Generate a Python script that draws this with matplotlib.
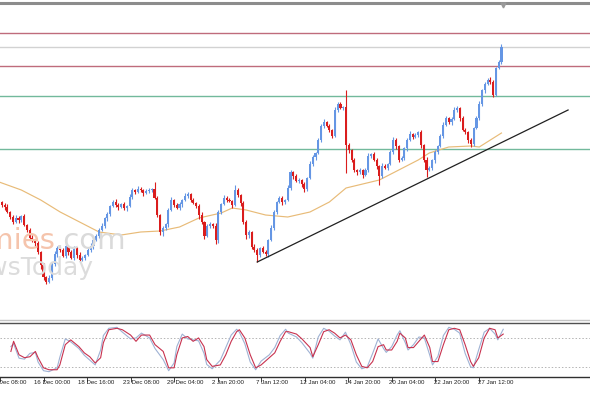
import matplotlib.pyplot as plt
import numpy as np

# 4h candles, bar 0 = 13 Dec 08:00 ; prices are in chart units
first_bar = 4
closes = [118,
          115, 113, 108, 103, 98, 102, 100, 104, 95, 90, 82, 80, 77, 68, 55, 43, 38, 42,
          56, 66, 72, 70, 64, 74, 68, 62, 72, 65, 60, 62, 65, 70, 74, 80, 84, 90,
          94, 102, 106, 114, 118, 115, 113, 116, 112, 114,
          123, 130, 128, 131, 130, 127, 129, 130, 131, 122,
          105, 88, 92, 96, 110, 120, 115, 112, 116, 120,
          124, 126, 120, 117, 114, 105, 98, 84, 94, 96,
          94, 80, 108, 116, 122, 120, 119, 115, 130, 125,
          117, 98, 85, 88, 73, 70, 65, 72, 68, 66,
          80, 92, 108, 118, 122, 118, 120, 132, 148, 144,
          139, 140, 136, 131, 142, 156, 163, 167, 180, 194,
          198, 194, 190, 184, 210, 216, 212, 213, 175, 170,
          160, 150, 148, 150, 145, 150, 164, 166, 160, 154,
          144, 154, 152, 156, 168, 180, 174, 160, 162, 172,
          180, 186, 183, 185, 188, 175, 160, 150, 152, 160,
          168, 174, 184, 195, 202, 198, 201, 210, 212, 202,
          190, 188, 180, 176, 192, 202, 216, 230, 236, 240,
          238, 225, 252, 258, 273]

wick_hi = [2, 1, 2, 3, 1, 2, 3, 2, 1, 2,
           1, 2, 3, 1, 2, 1, 2, 1, 3, 2,
           3, 2, 1, 2, 3, 1, 2, 2, 1, 3,
           2, 1, 2, 3, 1, 2, 2, 3, 1, 2,
           1, 2, 3, 2, 1, 2, 1, 3, 2, 1,
           3, 2, 1, 2, 2, 1, 7, 2, 1, 2,
           1, 2, 3, 1, 2, 2, 1, 3, 2, 1,
           2, 1, 2, 3, 1, 2, 2, 1, 3, 2,
           1, 3, 2, 2, 1, 5, 2, 1, 2, 2,
           2, 1, 3, 2, 1, 2, 2, 1, 3, 2,
           1, 2, 2, 1, 3, 2, 1, 2, 2, 1,
           2, 1, 3, 2, 1, 2, 2, 3, 1, 2,
           1, 3, 2, 2, 1, 17, 2, 1, 2, 1,
           2, 1, 2, 3, 1, 2, 2, 1, 3, 2,
           1, 2, 3, 2, 1, 2, 1, 2, 3, 1,
           2, 1, 2, 1, 3, 2, 1, 2, 1, 2,
           3, 2, 1, 2, 3, 2, 1, 2, 2, 1,
           2, 1, 2, 3, 1, 2, 2, 3, 2, 1,
           2, 3]

wick_lo = [1, 2, 3, 1, 2, 2, 1, 3, 2, 1,
           2, 1, 2, 3, 2, 4, 3, 2, 1, 2,
           2, 3, 2, 1, 2, 3, 1, 2, 3, 1,
           1, 2, 1, 2, 3, 1, 2, 1, 2, 3,
           2, 1, 2, 3, 1, 2, 3, 1, 2, 2,
           1, 2, 3, 1, 2, 2, 1, 2, 3, 4,
           2, 3, 1, 2, 1, 2, 3, 1, 2, 2,
           1, 2, 4, 2, 3, 1, 2, 2, 4, 3,
           2, 1, 2, 1, 3, 1, 2, 3, 2, 4,
           3, 2, 2, 7, 2, 1, 2, 3, 1, 2,
           2, 1, 3, 2, 1, 2, 3, 1, 2, 3,
           3, 2, 1, 2, 3, 1, 2, 2, 1, 2,
           2, 1, 2, 1, 2, 28, 3, 2, 2, 3,
           2, 3, 1, 2, 2, 1, 3, 9, 2, 1,
           2, 1, 2, 3, 2, 1, 2, 3, 1, 2,
           1, 2, 3, 2, 7, 1, 2, 3, 2, 1,
           2, 1, 2, 3, 1, 2, 3, 1, 2, 3,
           3, 2, 1, 2, 2, 3, 1, 2, 2, 1,
           1, 2]

# moving average
ma_bars = [4, 12, 19, 26, 33, 40, 48, 55, 62, 69, 76, 84, 88, 93, 100, 108,
           116, 123, 129, 138, 141, 148, 155, 159, 166, 174, 177, 181, 185]
ma_vals = [138, 130, 120, 108, 98, 88, 85, 88, 89, 93, 102, 107, 112, 110, 105, 103,
           108, 118, 132, 138, 140, 150, 160, 167, 173, 174, 173, 180, 187]

# stochastic oscillator
stoch_bars = [4, 5, 7, 9, 11, 13, 14, 16, 18, 21, 22, 24, 26, 29, 31, 33, 35, 37, 38, 40,
              43, 45, 48, 50, 52, 55, 57, 60, 62, 64, 65, 67, 69, 71, 73, 75, 76, 78, 81, 83,
              85, 87, 88, 90, 92, 94, 96, 99, 101, 103, 105, 106, 109, 111, 114, 115, 117, 119, 121, 123,
              125, 127, 129, 131, 133, 135, 137, 139, 141, 142, 144, 146, 147, 149, 150, 152, 154, 156, 158, 159,
              161, 163, 165, 167, 169, 171, 173, 174, 176, 178, 180, 182, 183, 185]
stoch_d = [52, 73, 45, 39, 41, 52, 39, 18, 14, 14, 24, 66, 76, 62, 49, 41, 28, 39, 70, 97,
           100, 97, 86, 73, 86, 86, 66, 52, 18, 18, 45, 80, 83, 73, 80, 62, 35, 21, 24, 45,
           73, 93, 97, 80, 45, 18, 24, 39, 49, 73, 93, 93, 88, 78, 60, 41, 66, 93, 97, 90,
           80, 86, 76, 45, 21, 18, 31, 62, 66, 55, 55, 73, 90, 80, 60, 60, 73, 86, 60, 31,
           31, 66, 97, 100, 97, 66, 31, 21, 39, 80, 100, 97, 80, 88]
stoch_k = [62, 68, 38, 36, 48, 50, 30, 12, 10, 18, 40, 78, 72, 58, 44, 34, 24, 55, 85, 100,
           102, 92, 78, 80, 90, 80, 58, 35, 12, 28, 62, 88, 78, 76, 74, 48, 25, 16, 34, 60,
           86, 98, 92, 68, 30, 14, 32, 45, 60, 85, 98, 90, 82, 70, 48, 38, 82, 100, 94, 84,
           76, 92, 66, 30, 16, 20, 48, 78, 58, 50, 62, 86, 95, 70, 55, 66, 82, 80, 44, 24,
           42, 85, 102, 98, 90, 48, 20, 18, 56, 92, 100, 88, 76, 98]

tick_bars = [0, 16, 32, 48, 64, 80, 96, 112, 128, 144, 160, 176]
tick_labels = ['13 Dec 08:00', '16 Dec 00:00', '18 Dec 16:00', '23 Dec 08:00',
               '29 Dec 04:00', '2 Jan 20:00', '7 Jan 12:00', '12 Jan 04:00',
               '14 Jan 20:00', '20 Jan 04:00', '22 Jan 20:00', '27 Jan 12:00']

red_levels = [287, 254]
green_levels = [224, 171]
trend_bars = [97, 209]
trend_prices = [58, 210]

####### figure #######
W, H = 590, 393
fig = plt.figure(figsize=(W / 100, H / 100), dpi=100)
fig.patch.set_facecolor('white')

ax = fig.add_axes([0, 1 - 320 / H, 1, 317 / H])
ax2 = fig.add_axes([0, 1 - 376.5 / H, 1, 53.5 / H])
xlim = (4.32, 216.9)

# watermark behind everything
fig.text(55 / W, 1 - 249 / H, 'economies', ha='right', va='baseline', fontsize=21,
         color='#f5c4ac', zorder=0)
fig.text(55 / W, 1 - 249 / H, '.com', ha='left', va='baseline', fontsize=21,
         color='#dadada', zorder=0)
fig.text(93 / W, 1 - 275 / H, 'NewsToday', ha='right', va='baseline', fontsize=18,
         color='#dcdcdc', zorder=0)

c = np.array(closes, dtype=float)
o = np.r_[c[0], c[:-1]]
hi = np.maximum(o, c) + np.array(wick_hi)
lo = np.minimum(o, c) - np.array(wick_lo)
bars = np.arange(first_bar, first_bar + len(c))
up = c >= o
cols = np.where(up, '#6596e4', '#da1d1d')

sel = slice(1, None)
ax.vlines(bars[sel], lo[sel], hi[sel], colors=cols[sel], lw=0.8, zorder=3)
body_h = np.maximum(np.abs(c - o), 0.8)
ax.bar(bars[sel], body_h[sel], bottom=np.minimum(o, c)[sel], width=0.75,
       color=cols[sel], linewidth=0, zorder=4)

ax.plot(ma_bars, ma_vals, color='#e8bb78', lw=0.85, zorder=2)

for lv in red_levels:
    ax.axhline(lv, color='#bf6c7c', lw=1.0, zorder=1)
for lv in green_levels:
    ax.axhline(lv, color='#72b99c', lw=1.0, zorder=1)
ax.axhline(c[-1], color='#d2d2d2', lw=1.0, zorder=1)  # bid line

ax.plot(trend_bars, trend_prices, color='#202020', lw=0.9, zorder=5)

# chart shift marker
ax.plot([bars[-1] + 0.6], [315], marker='v', ms=3.5, color='#9a9a9a',
        clip_on=False, zorder=6)

ax.set_xlim(*xlim)
ax.set_ylim(0, 317)
ax.set_xticks([])
ax.set_yticks([])
for s in ['left', 'right']:
    ax.spines[s].set_visible(False)
ax.spines['top'].set_color('#8c8c8c')
ax.spines['top'].set_linewidth(2.2)
ax.spines['bottom'].set_color('#c4c4c4')
ax.spines['bottom'].set_linewidth(1.0)

# stochastic panel
ax2.axhline(80, color='#b4b4b4', lw=0.7, ls=(0, (1.5, 2)))
ax2.axhline(20, color='#b4b4b4', lw=0.7, ls=(0, (1.5, 2)))
ax2.plot(stoch_bars, stoch_k, color='#9fb2d4', lw=0.8)
ax2.plot(stoch_bars, stoch_d, color='#c8324f', lw=0.8)
ax2.set_xlim(*xlim)
ax2.set_ylim(0, 111)
ax2.set_yticks([])
ax2.set_xticks(tick_bars)
ax2.set_xticklabels([])
ax2.tick_params(axis='x', length=3.5, width=0.7, color='#404040')
for s in ['left', 'right']:
    ax2.spines[s].set_visible(False)
ax2.spines['top'].set_color('#505050')
ax2.spines['bottom'].set_color('#303030')
ax2.spines['top'].set_linewidth(1.0)
ax2.spines['bottom'].set_linewidth(1.0)

# time labels, left aligned at each tick (first one runs off the left edge)
px_per_bar = W / (xlim[1] - xlim[0])
for b, lab in zip(tick_bars, tick_labels):
    x_px = (b - xlim[0]) * px_per_bar + 1.5
    fig.text(x_px / W, 1 - 380 / H, lab, ha='left', va='top', fontsize=4.4,
             family='Liberation Sans', color='#202020')

fig.savefig('out.png', dpi=100)
